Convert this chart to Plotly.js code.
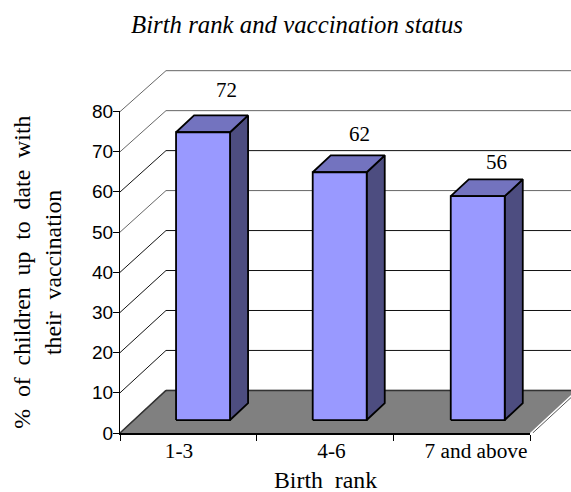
<!DOCTYPE html>
<html>
<head>
<meta charset="utf-8">
<script src="https://cdn.plot.ly/plotly-3.0.1.min.js"></script>
<style>html,body{margin:0;padding:0;background:#fff}#chart{width:571px;height:492px}</style>
</head>
<body>
<div id="chart"></div>
<script>
var categories = ['1-3', '4-6', '7 and above'];
var values = [72, 62, 56];
var yTicks = [0, 10, 20, 30, 40, 50, 60, 70, 80];
var chartTitle = 'Birth rank and vaccination status';
var xTitle = 'Birth\u00a0\u00a0rank';
var yTitleLine1 = '%\u00a0\u00a0of\u00a0\u00a0children\u00a0\u00a0up\u00a0\u00a0to\u00a0\u00a0date\u00a0\u00a0with';
var yTitleLine2 = 'their\u00a0\u00a0vaccination';

var FONT = '"Liberation Serif","Times New Roman",serif';
var SANS = '"Liberation Sans",Arial,sans-serif';
var DX = 0.3366, DY = 10.6;       // total projected depth of the box
var GX = 0.1076, GY = 3.23;       // gap between the floor's front edge and a bar
var BX = 0.132, BY = 4.2;         // projected depth of a bar
var HALF = 0.1975;                // half of a bar's width
var DEPTH_SCALE = 0.995;          // vertical scale behind the front plane
var XMAX = 2.8, YMAX = 92.86;     // extent of the drawing axes
var barNudge = [0, 0, 0.01];
var labelTickPos = [-0.068, 1.047, 2.105];
var labelShiftX = [23, 20, 20];
var labelShiftY = [42, 38, 34];

var traces = [];
function poly(xs, ys, fill, line, width) {
  traces.push({
    x: xs, y: ys, type: 'scatter', mode: line ? 'lines' : 'none',
    fill: fill ? 'toself' : 'none', fillcolor: fill || undefined,
    line: {color: line || 'rgba(0,0,0,0)', width: width || 1, simplify: false},
    hoverinfo: 'skip', showlegend: false
  });
}

// walls: grid lines running across the left wall and the back wall
yTicks.forEach(function (t) {
  var c = (t === 80 || t === 70 || t === 50) ? '#666666' : '#111111';
  var back = t * DEPTH_SCALE + DY;
  poly([-0.5, -0.5 + DX, 3.5], [t, back, back], null, c, 1);
});

// floor
poly([-0.5, 2.5, 2.5 + DX, -0.5 + DX, -0.5], [0, 0, DY, DY, 0], '#808080', null);
poly([-0.5 + DX, 3.5], [DY, DY], null, '#333333', 1.5);
poly([-0.5, -0.5 + DX], [0, DY], null, '#333333', 1.5);
poly([2.5 + 0.02, 2.5 + DX + 0.02], [0, DY], null, '#555555', 1);

// bars
values.forEach(function (v, i) {
  var c = i + GX + barNudge[i];
  var l = c - HALF, r = c + HALF, b = GY, t = GY + v * DEPTH_SCALE;
  poly([r, r + BX, r + BX, r, r], [b, b + BY, t + BY, t, b], '#4D4D80', '#000000', 1.8);
  poly([l, r, r + BX, l + BX, l], [t, t, t + BY, t + BY, t], '#7373BF', '#000000', 1.8);
  poly([l, r, r, l, l], [b, b, t, t, b], '#9999FF', '#000000', 1.8);
});

// an invisible trace that makes the visible axes exist
traces.push({x: [0, 1, 2], y: values, xaxis: 'x2', yaxis: 'y2', type: 'scatter', mode: 'none', hoverinfo: 'skip', showlegend: false});

// value labels, sitting above each bar
var annotations = values.map(function (v, i) {
  return {
    x: i + GX, y: GY + v * DEPTH_SCALE, xref: 'x', yref: 'y', text: String(v), showarrow: false,
    xshift: labelShiftX[i], yshift: labelShiftY[i], xanchor: 'center', yanchor: 'middle',
    font: {family: FONT, size: 21, color: '#000'}
  };
});
annotations.push({
  x: (53 - 120) / 451, y: (433 - 273) / 373, xref: 'paper', yref: 'paper', text: yTitleLine2, showarrow: false,
  textangle: -90, xanchor: 'center', yanchor: 'middle', font: {family: FONT, size: 23.8, color: '#000'}
});
annotations.push({
  x: (325 - 120) / 451, y: (433 - 479.5) / 373, xref: 'paper', yref: 'paper', text: xTitle, showarrow: false,
  xanchor: 'center', yanchor: 'middle', font: {family: FONT, size: 23.8, color: '#000'}
});

var layout = {
  width: 571, height: 492, paper_bgcolor: '#fff', plot_bgcolor: 'rgba(0,0,0,0)',
  margin: {l: 120, r: 0, t: 60, b: 59, pad: 0},
  showlegend: false,
  annotations: annotations,
  font: {family: FONT, color: '#000'},
  title: {text: '<i>' + chartTitle + '</i>', x: 297 / 571, xanchor: 'center', y: 1 - 24 / 492, yanchor: 'middle',
          font: {family: FONT, size: 24.8, color: '#000'}},
  // full drawing space of the box, hidden
  xaxis: {range: [-0.5, XMAX], visible: false, domain: [0, 1], anchor: 'y'},
  yaxis: {range: [0, YMAX], visible: false, domain: [0, 1], anchor: 'x'},
  // the visible front axes
  xaxis2: {
    domain: [0, 410 / 451], anchor: 'y2', range: [-0.5, 2.5], tickmode: 'array', tickvals: labelTickPos, ticktext: categories,
    ticks: '', showgrid: false, zeroline: false, showline: true, linewidth: 2, linecolor: '#000', ticklabelstandoff: -3,
    tickfont: {size: 21.3, family: FONT, color: '#000'},
    minor: {tickmode: 'array', tickvals: [-0.5, 0.5, 1.5, 2.5], ticks: 'outside', ticklen: 6, tickwidth: 1, tickcolor: '#000', showgrid: false}
  },
  yaxis2: {
    domain: [0, 321.6 / 373], anchor: 'x2', range: [0, 80], tickmode: 'array', tickvals: yTicks, ticks: 'outside', ticklen: 6, tickwidth: 1,
    tickcolor: '#000', showgrid: false, zeroline: false, showline: true, linewidth: 1, linecolor: '#000', ticklabelstandoff: -4,
    tickfont: {size: 19, family: SANS, color: '#000'},
    title: {text: yTitleLine1, font: {size: 23.8, family: FONT, color: '#000'}, standoff: 54}
  }
};
Plotly.newPlot('chart', traces, layout, {displayModeBar: false, staticPlot: true});
</script>
</body>
</html>
